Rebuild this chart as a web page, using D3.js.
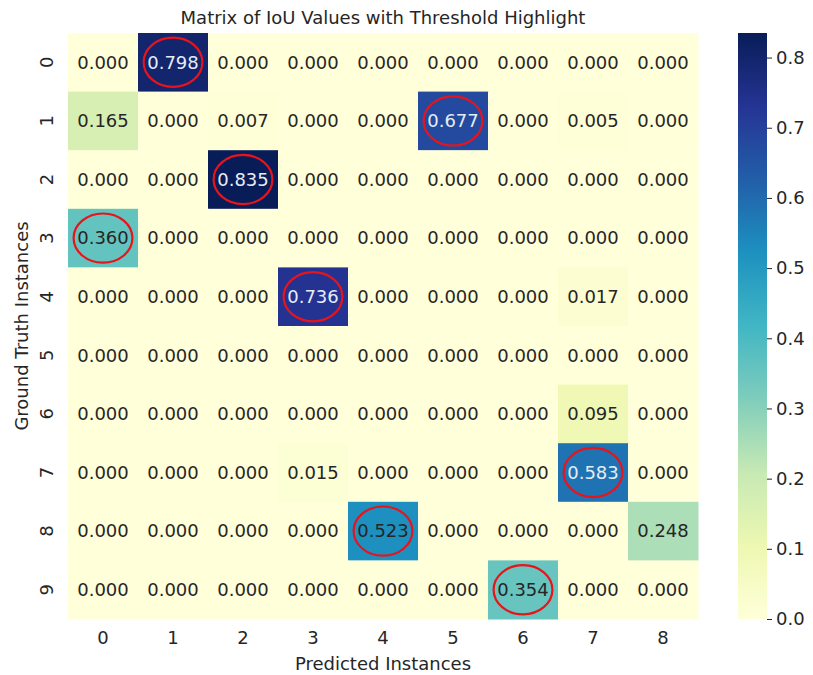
<!DOCTYPE html>
<html>
<head>
<meta charset="utf-8">
<script src="https://cdn.jsdelivr.net/npm/d3@7"></script>
<style>
  body { margin: 0; background: #fff; }
  text { font-family: "DejaVu Sans", sans-serif; }
</style>
</head>
<body>
<div id="chart"></div>
<script>
var predLabels = ["0", "1", "2", "3", "4", "5", "6", "7", "8"];
var gtLabels = ["0", "1", "2", "3", "4", "5", "6", "7", "8", "9"];
var iou = [
  [0.000, 0.798, 0.000, 0.000, 0.000, 0.000, 0.000, 0.000, 0.000],
  [0.165, 0.000, 0.007, 0.000, 0.000, 0.677, 0.000, 0.005, 0.000],
  [0.000, 0.000, 0.835, 0.000, 0.000, 0.000, 0.000, 0.000, 0.000],
  [0.360, 0.000, 0.000, 0.000, 0.000, 0.000, 0.000, 0.000, 0.000],
  [0.000, 0.000, 0.000, 0.736, 0.000, 0.000, 0.000, 0.017, 0.000],
  [0.000, 0.000, 0.000, 0.000, 0.000, 0.000, 0.000, 0.000, 0.000],
  [0.000, 0.000, 0.000, 0.000, 0.000, 0.000, 0.000, 0.095, 0.000],
  [0.000, 0.000, 0.000, 0.015, 0.000, 0.000, 0.000, 0.583, 0.000],
  [0.000, 0.000, 0.000, 0.000, 0.523, 0.000, 0.000, 0.000, 0.248],
  [0.000, 0.000, 0.000, 0.000, 0.000, 0.000, 0.354, 0.000, 0.000]
];
var threshold = 0.3;
var cbarTicks = [0.0, 0.1, 0.2, 0.3, 0.4, 0.5, 0.6, 0.7, 0.8];
var title = "Matrix of IoU Values with Threshold Highlight";
// matplotlib's YlGnBu is a linear ramp through these colorbrewer stops
var ylgnbu = ["#ffffd9", "#edf8b1", "#c7e9b4", "#7fcdbb", "#41b6c4", "#1d91c0", "#225ea8", "#253494", "#081d58"];

var width = 813, height = 675;
var margin = { top: 33, left: 68 };
var gWidth = 630, gHeight = 586;

var cells = [];
iou.forEach(function (row, r) {
  row.forEach(function (v, c) {
    cells.push({ row: gtLabels[r], col: predLabels[c], value: v });
  });
});
var vmax = d3.max(cells, function (d) { return d.value; });

var svg = d3.select("#chart").append("svg").attr("width", width).attr("height", height);
var graph = svg.append("g").attr("transform", "translate(" + margin.left + "," + margin.top + ")");

var x = d3.scaleBand().domain(predLabels).range([0, gWidth]);
var y = d3.scaleBand().domain(gtLabels).range([0, gHeight]);
var color = d3.scaleLinear()
  .domain(d3.range(ylgnbu.length).map(function (i) { return vmax * i / (ylgnbu.length - 1); }))
  .range(ylgnbu)
  .interpolate(d3.interpolateRgb);

graph.selectAll("rect.cell").data(cells).enter()
  .append("rect")
  .attr("class", "cell")
  .attr("x", function (d) { return x(d.col); })
  .attr("y", function (d) { return y(d.row); })
  .attr("width", x.bandwidth() + 0.5)
  .attr("height", y.bandwidth() + 0.5)
  .attr("fill", function (d) { return color(d.value); });

graph.selectAll("text.annot").data(cells).enter()
  .append("text")
  .attr("class", "annot")
  .attr("x", function (d) { return x(d.col) + x.bandwidth() / 2; })
  .attr("y", function (d) { return y(d.row) + y.bandwidth() / 2; })
  .attr("dy", "0.35em")
  .attr("text-anchor", "middle")
  .style("font-size", "18px")
  .attr("fill", function (d) {
    var c = d3.hsl(color(d.value));
    return c.l < 0.42 ? "#e6ecf5" : "#262626";
  })
  .text(function (d) { return d.value.toFixed(3); });

// threshold highlight
graph.selectAll("ellipse.hl").data(cells.filter(function (d) { return d.value > threshold; })).enter()
  .append("ellipse")
  .attr("class", "hl")
  .attr("cx", function (d) { return x(d.col) + x.bandwidth() / 2; })
  .attr("cy", function (d) { return y(d.row) + y.bandwidth() / 2; })
  .attr("rx", x.bandwidth() * 0.42)
  .attr("ry", y.bandwidth() * 0.42)
  .attr("fill", "none")
  .attr("stroke", "#e8141c")
  .attr("stroke-width", 2.2);

// axes
var gX = graph.append("g").attr("transform", "translate(0," + gHeight + ")")
  .call(d3.axisBottom(x).tickSize(0).tickPadding(12));
gX.select(".domain").remove();
gX.selectAll("text").style("font-size", "18px").attr("fill", "#262626");

var gY = graph.append("g").call(d3.axisLeft(y).tickSize(0).tickPadding(0));
gY.select(".domain").remove();
gY.selectAll("text")
  .style("font-size", "18px")
  .attr("fill", "#262626")
  .attr("text-anchor", "middle")
  .attr("dy", "0")
  .attr("x", 0)
  .attr("transform", "translate(-15,0) rotate(-90)");

svg.append("text")
  .text(title)
  .attr("x", margin.left + gWidth / 2)
  .attr("y", 24)
  .attr("text-anchor", "middle")
  .style("font-size", "18px")
  .attr("fill", "#262626");

svg.append("text")
  .text("Predicted Instances")
  .attr("x", margin.left + gWidth / 2)
  .attr("y", 670)
  .attr("text-anchor", "middle")
  .style("font-size", "18px")
  .attr("fill", "#262626");

svg.append("text")
  .text("Ground Truth Instances")
  .attr("transform", "translate(28," + (margin.top + gHeight / 2) + ") rotate(-90)")
  .attr("text-anchor", "middle")
  .style("font-size", "18px")
  .attr("fill", "#262626");

// colorbar
var cbX = 738, cbW = 29;
var cy = d3.scaleLinear().domain([0, vmax]).range([margin.top + gHeight, margin.top]);
var defs = svg.append("defs");
var grad = defs.append("linearGradient").attr("id", "cbar")
  .attr("x1", 0).attr("y1", 1).attr("x2", 0).attr("y2", 0);
ylgnbu.forEach(function (c, i) {
  grad.append("stop").attr("offset", i / (ylgnbu.length - 1)).attr("stop-color", c);
});
svg.append("rect")
  .attr("x", cbX).attr("y", margin.top)
  .attr("width", cbW).attr("height", gHeight)
  .attr("fill", "url(#cbar)");
var gC = svg.append("g").attr("transform", "translate(" + (cbX + cbW) + ",0)")
  .call(d3.axisRight(cy).tickValues(cbarTicks).tickFormat(d3.format(".1f")).tickSize(5).tickPadding(4));
gC.select(".domain").remove();
gC.selectAll("line").attr("stroke", "#262626");
gC.selectAll("text").style("font-size", "18px").attr("fill", "#262626");
</script>
</body>
</html>
